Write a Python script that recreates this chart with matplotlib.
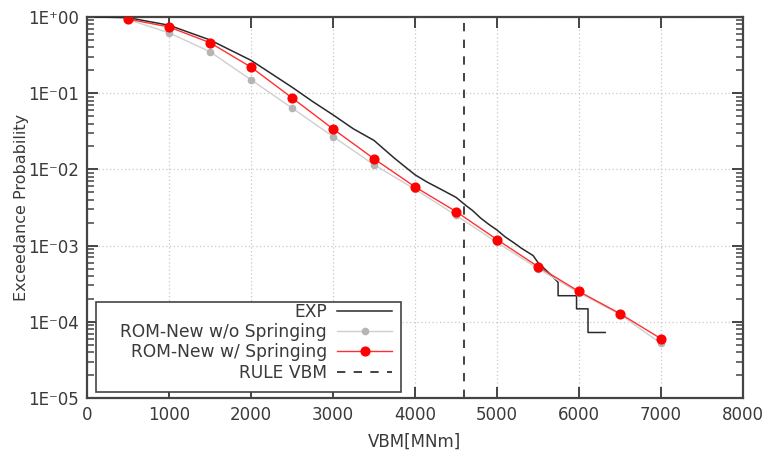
import matplotlib
matplotlib.use("Agg")
import matplotlib.pyplot as plt
from matplotlib.ticker import FixedLocator, NullFormatter
from matplotlib.patches import Rectangle

# ---- data ----
rom_x = [500, 1000, 1500, 2000, 2500, 3000, 3500, 4000, 4500, 5000, 5500, 6000, 6500, 7000]
rom_spring = [0.94, 0.74, 0.46, 0.22, 0.087, 0.034, 0.0138, 0.0059, 0.0028, 0.0012,
              0.00053, 0.00025, 0.000128, 0.00006]
rom_nospring = [0.93, 0.62, 0.35, 0.15, 0.064, 0.027, 0.0115, 0.0055, 0.0025, 0.0011,
                0.0005, 0.00024, 0.000125, 0.000052]

exp_x = [100, 500, 1000, 1500, 2000, 2500, 2750, 3000, 3250, 3500, 3750, 4000, 4150,
         4300, 4500, 4630, 4700, 4800, 4900, 5000, 5100, 5200, 5300, 5440, 5500,
         5560, 5650, 5745, 5745, 5970, 5970, 6110, 6110, 6320]
exp_y = [1.0, 0.98, 0.78, 0.50, 0.27, 0.12, 0.078, 0.052, 0.034, 0.024, 0.014, 0.0085,
         0.0068, 0.0056, 0.0043, 0.0033, 0.0029, 0.0023, 0.0019, 0.0016, 0.0013,
         0.0011, 0.00092, 0.00074, 0.00060, 0.00052, 0.00042, 0.00033, 0.00022,
         0.00022, 0.000148, 0.000148, 0.0000724, 0.0000724]

rule_vbm = 4600

x_ticks = [0, 1000, 2000, 3000, 4000, 5000, 6000, 7000, 8000]
y_ticks = [1e-5, 1e-4, 1e-3, 1e-2, 1e-1, 1e0]
y_tick_labels = ["1E\u207b05", "1E\u207b04", "1E\u207b03", "1E\u207b02", "1E\u207b01", "1E\u207a00"]

# ---- figure ----
W, H = 774, 457
fig = plt.figure(figsize=(W / 100, H / 100), dpi=100)
ax = fig.add_axes([87 / W, 1 - 398 / H, 656 / W, 381 / H])

frame_col = "#444444"
txt_col = "#3a3a3a"
ax.plot(exp_x, exp_y, color="#2a2a2a", lw=1.1, label="EXP", zorder=3)
ax.plot(rom_x, rom_nospring, color="#cfcfcf", lw=1.0, marker="o", ms=4.5,
        mfc="#b5b5b5", mec="#b5b5b5", label="ROM-New w/o Springing", zorder=4)
ax.plot(rom_x, rom_spring, color="#ff3030", lw=1.0, marker="o", ms=6.3,
        mfc="#ff0000", mec="#ff0000", label="ROM-New w/ Springing", zorder=5)
ax.axvline(rule_vbm, color="#222222", lw=1.2, ls=(0, (5, 5)), label="RULE VBM", zorder=2)

ax.set_yscale("log")
ax.set_xlim(0, 8000)
ax.set_ylim(1e-5, 1)
ax.xaxis.set_major_locator(FixedLocator(x_ticks))
ax.set_xticklabels([str(v) for v in x_ticks])
ax.yaxis.set_major_locator(FixedLocator(y_ticks))
ax.set_yticklabels(y_tick_labels)
minor = [k * d for d in y_ticks[:-1] for k in range(2, 10)]
ax.yaxis.set_minor_locator(FixedLocator(minor))
ax.yaxis.set_minor_formatter(NullFormatter())
ax.xaxis.set_minor_locator(FixedLocator([]))

ax.grid(True, which="major", color="#c8c8c8", ls=(0, (1, 2)), lw=0.9)
ax.tick_params(which="both", direction="in", right=True, top=True,
               colors=frame_col, labelcolor=txt_col, labelsize=12)
ax.tick_params(which="major", length=8, width=1.4, pad=6)
ax.tick_params(which="minor", length=5, width=1.1)
for s in ax.spines.values():
    s.set_color(frame_col)
    s.set_linewidth(1.6)

ax.set_xlabel("VBM[MNm]", fontsize=12, color=txt_col, labelpad=6)
ax.set_ylabel("Exceedance Probability", fontsize=11.5, color=txt_col)
ax.yaxis.set_label_coords(-0.088, 0.5)

# legend box (frame drawn separately, entries right-aligned like gnuplot)
ax.add_patch(Rectangle((9 / 656, 6 / 381), 305 / 656, 90 / 381, transform=ax.transAxes,
                       facecolor="white", edgecolor="#444444", lw=1.2, zorder=6))
leg = ax.legend(loc="upper right", bbox_to_anchor=(392 / W, 1 - 303 / H),
                bbox_transform=fig.transFigure, markerfirst=False, fontsize=12.3,
                frameon=False, handlelength=3.2, handletextpad=0.6,
                labelspacing=0.13, borderpad=0, borderaxespad=0)
leg.set_zorder(7)
for t in leg.get_texts():
    t.set_color(txt_col)

fig.savefig("out.png", dpi=100)
